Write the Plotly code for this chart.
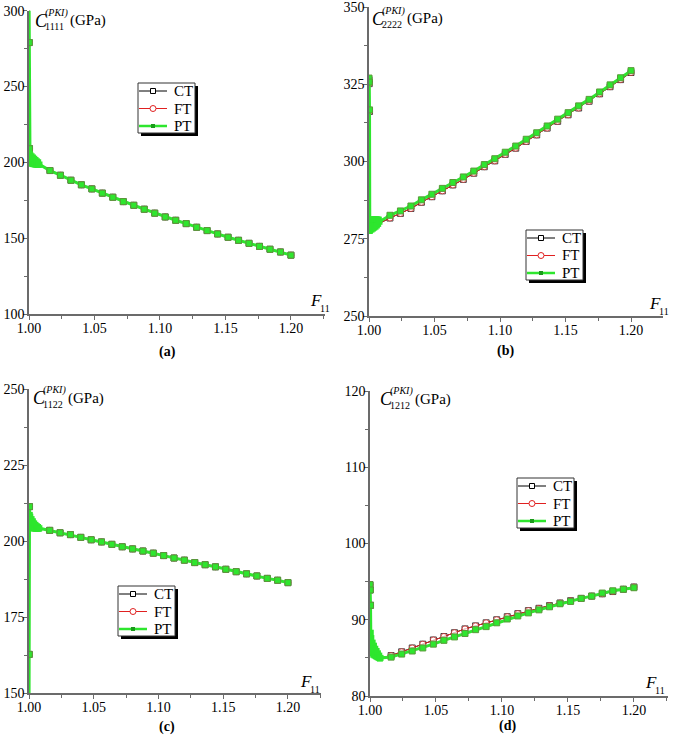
import plotly.graph_objects as go

W, H = 679, 744

# ---------------- data ----------------
F11 = [1.0, 1.0002, 1.0004, 1.0006, 1.0008, 1.001, 1.0015, 1.002, 1.0025, 1.003,
       1.0035, 1.004, 1.0045, 1.005, 1.0055, 1.006, 1.0065, 1.007, 1.0075, 1.008,
       1.016, 1.024, 1.032, 1.040, 1.048, 1.056, 1.064, 1.072, 1.080, 1.088,
       1.096, 1.104, 1.112, 1.120, 1.128, 1.136, 1.144, 1.152, 1.160, 1.168,
       1.176, 1.184, 1.192, 1.200]

# (a) C1111
a_CT = [315, 279, 209, 205.5, 199.5, 204.8, 199.2, 204, 198.9, 203.2,
        198.7, 202.4, 198.5, 201.6, 198.4, 200.8, 198.3, 200, 198.2, 198.6,
        194.6, 191.5, 188.2, 185.2, 182.5, 179.7, 177.0, 174.1, 171.7, 169.1,
        166.5, 164.0, 161.8, 159.6, 157.2, 155.0, 152.8, 150.6, 148.6, 146.6,
        144.6, 142.7, 140.9, 138.8]
a_FT = a_CT
a_PT = [315, 279, 209, 205.5, 199.5, 204.8, 199.2, 204, 198.9, 203.2,
        198.7, 202.4, 198.5, 201.6, 198.4, 200.8, 198.3, 200, 198.2, 198.6,
        194.6, 191.5, 188.2, 185.2, 182.5, 179.7, 177.0, 174.1, 171.7, 169.1,
        166.5, 164.0, 161.8, 159.6, 157.2, 155.0, 152.8, 150.6, 148.6, 146.6,
        144.6, 142.7, 140.9, 138.8]

# (b) C2222
b_CT = [326.5, 325.2, 316.2, 277.2, 280.6, 277.5, 280.8, 277.7, 280.9, 278.0,
        280.9, 278.3, 280.9, 278.6, 280.9, 279.0, 280.9, 279.5, 280.8, 280.0,
        281.7, 283.2, 284.8, 286.8, 288.6, 290.5, 292.4, 294.2, 296.2, 298.3,
        300.2, 302.3, 304.3, 306.5, 308.6, 310.8, 313.0, 315.1, 317.3, 319.5,
        321.9, 324.2, 326.5, 328.8]
b_FT = b_CT
b_PT = [327, 325.7, 316.7, 277.5, 281, 277.8, 281.2, 278, 281.3, 278.3,
        281.3, 278.6, 281.3, 278.9, 281.3, 279.3, 281.3, 279.8, 281.2, 280.5,
        282.6, 284.0, 285.6, 287.6, 289.4, 291.3, 293.2, 295.0, 296.9, 299.0,
        300.9, 303.0, 305.0, 307.2, 309.3, 311.5, 313.7, 315.8, 318.0, 320.1,
        322.5, 324.8, 327.1, 329.4]

# (c) C1122
c_CT = [140, 162.7, 211.3, 208.6, 204.5, 208, 204.3, 207.2, 204.2, 206.5,
        204.1, 205.8, 204.1, 205.3, 204.0, 204.9, 204.0, 204.6, 204.0, 204.2,
        203.5, 202.7, 202.1, 201.2, 200.4, 199.7, 198.9, 198.1, 197.4, 196.7,
        196.0, 195.2, 194.4, 193.7, 192.9, 192.2, 191.5, 190.7, 189.9, 189.2,
        188.5, 187.7, 187.1, 186.3]
c_FT = c_CT
c_PT = [140, 162.7, 211.3, 208.6, 204.5, 208, 204.3, 207.2, 204.2, 206.5,
        204.1, 205.8, 204.1, 205.3, 204.0, 204.9, 204.0, 204.6, 204.0, 204.2,
        203.5, 202.7, 202.1, 201.2, 200.4, 199.7, 198.9, 198.1, 197.4, 196.7,
        196.0, 195.2, 194.4, 193.7, 192.9, 192.2, 191.5, 190.7, 189.9, 189.2,
        188.5, 187.7, 187.1, 186.3]

# (d) C1212
d_CT = [94.6, 93.9, 91.9, 88.3, 86.0, 87.6, 85.6, 87.0, 85.4, 86.6,
        85.3, 86.2, 85.2, 85.9, 85.1, 85.6, 85.0, 85.3, 84.9, 85.0,
        85.3, 85.8, 86.3, 86.8, 87.35, 87.8, 88.3, 88.8, 89.2, 89.6,
        90.0, 90.4, 90.8, 91.2, 91.5, 91.85, 92.2, 92.5, 92.8, 93.1,
        93.4, 93.7, 94.0, 94.3]
d_FT = d_CT
d_PT = [94.6, 93.9, 91.9, 88.3, 86.0, 87.6, 85.6, 87.0, 85.4, 86.6,
        85.3, 86.2, 85.2, 85.9, 85.1, 85.6, 85.0, 85.3, 84.9, 85.0,
        85.1, 85.5, 85.9, 86.3, 86.8, 87.3, 87.75, 88.2, 88.7, 89.1,
        89.6, 90.1, 90.5, 90.9, 91.3, 91.7, 92.1, 92.4, 92.8, 93.1,
        93.5, 93.8, 94.0, 94.2]

series_names = ["CT", "FT", "PT"]
x_ticks = [1.00, 1.05, 1.10, 1.15, 1.20]
x_ticklabels = ["1.00", "1.05", "1.10", "1.15", "1.20"]
panel_labels = ["(a)", "(b)", "(c)", "(d)"]
subscripts = ["1111", "2222", "1122", "1212"]
y_ranges = [[100, 300], [250, 350], [150, 250], [80, 120]]
y_dticks = [50, 25, 25, 10]

panels = [(a_CT, a_FT, a_PT), (b_CT, b_FT, b_PT), (c_CT, c_FT, c_PT), (d_CT, d_FT, d_PT)]

# ---------------- layout geometry (pixels) ----------------
boxes = [(29, 325, 10.7, 314, 1.2260),
         (369, 663, 7, 316, 1.2244),
         (29, 321, 389, 693, 1.2255),
         (370, 668, 391, 696, 1.2258)]
legend_pos = [(138, 83), (526, 230), (118, 586), (517, 478)]
ylabel_pos = [(33, 20.5), (370, 18.5), (30.5, 397.5), (378, 398.7)]
f11_pos = [(308, 300.7), (646.7, 303), (297.7, 681), (643.3, 682.5)]
plabel_pos = [(167, 352), (505, 351), (167, 727), (507, 726)]

GREEN = "#2ee62e"
AXC = "#6b6b6b"
SERIF = "Liberation Serif"

# marker styling: the dense cluster near F11 = 1 shows as a solid green band
n_pts = len(F11)
band = [3 <= k < 20 for k in range(n_pts)]
under_size = [0 if s else 6 for s in band]
pt_edge = [0 if s else 1 for s in band]


def px(x):
    return x / W


def py(y):
    return 1 - y / H


fig = go.Figure()
layout = dict(template="none", width=W, height=H, margin=dict(l=0, r=0, t=0, b=0, pad=0),
              paper_bgcolor="white", plot_bgcolor="white", showlegend=False,
              font=dict(family=SERIF, size=14, color="black"))
shapes, annotations = [], []

styles = [
    dict(line=dict(color="black", width=1),
         marker=dict(symbol="square-open", size=under_size, color="black", line=dict(width=1))),
    dict(line=dict(color="#e02020", width=1),
         marker=dict(symbol="circle", size=under_size, color="white",
                     line=dict(color="#e02020", width=1))),
    dict(line=dict(color=GREEN, width=3),
         marker=dict(symbol="square", size=6, color=GREEN,
                     line=dict(color="#5a9a3a", width=pt_edge))),
]

for i, (ys, box) in enumerate(zip(panels, boxes)):
    n = "" if i == 0 else str(i + 1)
    l, r, t, b, xend = box
    xa = "xaxis" + n
    ya = "yaxis" + n
    for name, y, st in zip(series_names, ys, styles):
        fig.add_trace(go.Scatter(x=F11, y=y, name=name, mode="lines+markers",
                                 xaxis="x" + n, yaxis="y" + n, hoverinfo="skip", **st))
    common = dict(showline=True, linecolor=AXC, linewidth=1.5, showgrid=False,
                  zeroline=False, ticks="outside", ticklen=4, tickcolor=AXC,
                  tickwidth=1, automargin=False, ticklabeloverflow="allow",
                  ticklabelstandoff=-4,
                  tickfont=dict(family=SERIF, size=14, color="black"))
    layout[xa] = dict(domain=[px(l), px(r)], range=[1.0, xend], anchor="y" + n,
                      tickvals=x_ticks, ticktext=x_ticklabels,
                      minor=dict(ticks="outside", ticklen=3, dtick=0.025, tick0=1.0,
                                 tickcolor=AXC), **common)
    layout[ya] = dict(domain=[py(b), py(t)], range=y_ranges[i], anchor="x" + n,
                      dtick=y_dticks[i], tick0=y_ranges[i][0],
                      minor=dict(ticks="outside", ticklen=3, dtick=y_dticks[i] / 2,
                                 tick0=y_ranges[i][0], tickcolor=AXC), **common)

    cx, cy = ylabel_pos[i]
    annotations += [
        dict(x=px(cx), y=py(cy), xref="paper", yref="paper", xanchor="left", yanchor="middle",
             text="<i>C</i>", showarrow=False, font=dict(family=SERIF, size=18)),
        dict(x=px(cx + 10), y=py(cy - 7.5), xref="paper", yref="paper", xanchor="left",
             yanchor="middle", text="<i>(PKI)</i>", showarrow=False, font=dict(family=SERIF, size=10)),
        dict(x=px(cx + 10), y=py(cy + 6.5), xref="paper", yref="paper", xanchor="left",
             yanchor="middle", text=subscripts[i], showarrow=False, font=dict(family=SERIF, size=10)),
        dict(x=px(cx + 35), y=py(cy + 0.5), xref="paper", yref="paper", xanchor="left",
             yanchor="middle", text="(GPa)", showarrow=False, font=dict(family=SERIF, size=15)),
    ]
    fx, fy = f11_pos[i]
    annotations += [
        dict(x=px(fx), y=py(fy), xref="paper", yref="paper", xanchor="left", yanchor="middle",
             text="<i>F</i>", showarrow=False, font=dict(family=SERIF, size=17)),
        dict(x=px(fx + 10), y=py(fy + 8), xref="paper", yref="paper", xanchor="left",
             yanchor="middle", text="11", showarrow=False, font=dict(family=SERIF, size=10)),
    ]
    lx, ly = plabel_pos[i]
    annotations.append(dict(x=px(lx), y=py(ly), xref="paper", yref="paper", xanchor="center",
                            yanchor="middle", text="<b>" + panel_labels[i] + "</b>",
                            showarrow=False, font=dict(family=SERIF, size=14)))

    # legend box with drop shadow (drawn manually)
    gx, gy = legend_pos[i]
    bw, bh = 57, 50
    shapes.append(dict(type="rect", xref="paper", yref="paper", x0=px(gx + 3), x1=px(gx + bw + 3),
                       y0=py(gy + bh + 3), y1=py(gy + 3), fillcolor="black",
                       line=dict(width=0), layer="above"))
    shapes.append(dict(type="rect", xref="paper", yref="paper", x0=px(gx), x1=px(gx + bw),
                       y0=py(gy + bh), y1=py(gy), fillcolor="white",
                       line=dict(color="#333333", width=1), layer="above"))
    row_y = [gy + 8, gy + 25.5, gy + 43]
    line_cols = ["black", "#e02020", GREEN]
    line_ws = [1, 1, 2.5]
    for k in range(3):
        yy = row_y[k]
        shapes.append(dict(type="line", xref="paper", yref="paper", x0=px(gx + 1), x1=px(gx + 29),
                           y0=py(yy), y1=py(yy), line=dict(color=line_cols[k], width=line_ws[k]),
                           layer="above"))
        mx = gx + 15
        if k == 0:
            shapes.append(dict(type="rect", xref="paper", yref="paper", x0=px(mx - 2.5),
                               x1=px(mx + 2.5), y0=py(yy + 2.5), y1=py(yy - 2.5),
                               fillcolor="white", line=dict(color="black", width=1), layer="above"))
        elif k == 1:
            shapes.append(dict(type="circle", xref="paper", yref="paper", x0=px(mx - 3),
                               x1=px(mx + 3), y0=py(yy + 3), y1=py(yy - 3),
                               fillcolor="white", line=dict(color="#e02020", width=1), layer="above"))
        else:
            shapes.append(dict(type="rect", xref="paper", yref="paper", x0=px(mx - 2),
                               x1=px(mx + 2), y0=py(yy + 2), y1=py(yy - 2),
                               fillcolor="#1a9a1a", line=dict(width=0), layer="above"))
        annotations.append(dict(x=px(gx + 34), y=py(yy), xref="paper", yref="paper",
                                xanchor="left", yanchor="middle", text=series_names[k],
                                showarrow=False, font=dict(family=SERIF, size=15)))

layout["shapes"] = shapes
layout["annotations"] = annotations
fig.update_layout(**layout)
fig.write_html("out.html", config={"displayModeBar": False},
               post_script="document.body.style.margin='0';document.body.style.overflow='hidden';")
